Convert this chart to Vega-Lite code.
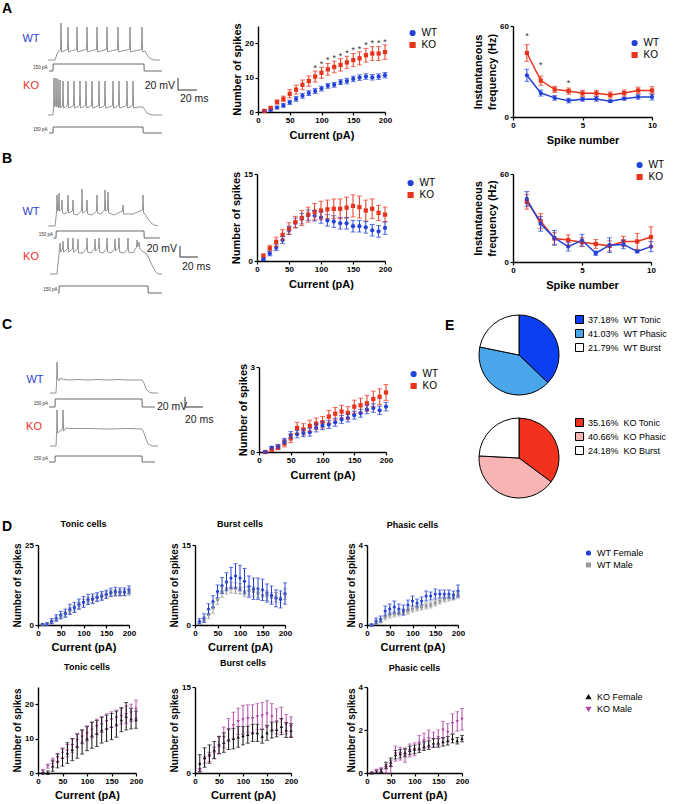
{
"$schema": "https://vega.github.io/schema/vega-lite/v6.json",
"padding": 0,
"background": "white",
"bounds": "flush",
"spacing": 0,
"config": {
 "view": {"stroke": null},
 "font": "Liberation Sans",
 "axis": {"domainColor": "#000", "domainWidth": 1.4, "tickColor": "#000", "tickWidth": 1.2, "tickSize": 3, "labelFont": "Liberation Sans", "labelFontWeight": "bold", "labelFontSize": 8, "labelColor": "#000", "labelPadding": 1.5, "titleFont": "Liberation Sans", "titleFontWeight": "bold", "titleFontSize": 11, "titleColor": "#000", "titlePadding": 2, "grid": false, "labelFlush": false, "labelOverlap": false},
 "axisX": {"titlePadding": 5},
 "legend": {"labelFont": "Liberation Sans", "labelFontSize": 10, "labelColor": "#000", "padding": 0, "rowPadding": 0, "labelOffset": 4, "symbolSize": 22},
 "text": {"font": "Liberation Sans"}
},
"resolve": {"scale": {"color": "independent", "shape": "independent", "stroke": "independent"}},
"datasets": {
 "vA": [
  {"id":"WT","t":0,"v":81},{"id":"WT","t":7,"v":81},{"id":"WT","t":9,"v":87},{"id":"WT","t":11,"v":90},{"id":"WT","t":12.5,"v":91},{"id":"WT","t":13,"v":118},{"id":"WT","t":13.6,"v":89},{"id":"WT","t":16.5,"v":90.5},{"id":"WT","t":19.5,"v":91.5},{"id":"WT","t":20,"v":114},{"id":"WT","t":20.6,"v":89},{"id":"WT","t":24.5,"v":90.5},{"id":"WT","t":28.5,"v":91.5},{"id":"WT","t":29,"v":114},{"id":"WT","t":29.6,"v":89},{"id":"WT","t":34,"v":90.5},{"id":"WT","t":38.5,"v":91.5},{"id":"WT","t":39,"v":114},{"id":"WT","t":39.6,"v":89},{"id":"WT","t":44,"v":90.5},{"id":"WT","t":48.5,"v":91.5},{"id":"WT","t":49,"v":114},{"id":"WT","t":49.6,"v":89},{"id":"WT","t":54,"v":90.5},{"id":"WT","t":58.5,"v":91.5},{"id":"WT","t":59,"v":114},{"id":"WT","t":59.6,"v":89},{"id":"WT","t":64.5,"v":90.5},{"id":"WT","t":69.5,"v":91.5},{"id":"WT","t":70,"v":114},{"id":"WT","t":70.6,"v":89},{"id":"WT","t":76,"v":90.5},{"id":"WT","t":81.5,"v":91.5},{"id":"WT","t":82,"v":114},{"id":"WT","t":82.6,"v":89},{"id":"WT","t":88,"v":90.5},{"id":"WT","t":93.5,"v":91.5},{"id":"WT","t":94,"v":114},{"id":"WT","t":94.6,"v":89},{"id":"WT","t":97,"v":90},{"id":"WT","t":99,"v":86},{"id":"WT","t":101.5,"v":83},{"id":"WT","t":104,"v":81.5},{"id":"WT","t":107,"v":81},{"id":"WT","t":112,"v":81},
  {"id":"KO","t":0,"v":26},{"id":"KO","t":5,"v":26},{"id":"KO","t":5.6,"v":33},{"id":"KO","t":6,"v":63},{"id":"KO","t":6.6,"v":34},{"id":"KO","t":7.6,"v":36},{"id":"KO","t":8,"v":63},{"id":"KO","t":8.6,"v":34},{"id":"KO","t":9.6,"v":35},{"id":"KO","t":10,"v":62},{"id":"KO","t":10.6,"v":33},{"id":"KO","t":11.6,"v":35},{"id":"KO","t":12,"v":61},{"id":"KO","t":12.6,"v":33},{"id":"KO","t":14.5,"v":35},{"id":"KO","t":15,"v":60},{"id":"KO","t":15.6,"v":33},{"id":"KO","t":17.5,"v":34},{"id":"KO","t":19.5,"v":35.5},{"id":"KO","t":20,"v":60},{"id":"KO","t":20.6,"v":33},{"id":"KO","t":23,"v":34},{"id":"KO","t":25.5,"v":35.5},{"id":"KO","t":26,"v":60},{"id":"KO","t":26.6,"v":33},{"id":"KO","t":29,"v":34},{"id":"KO","t":31.5,"v":35.5},{"id":"KO","t":32,"v":60},{"id":"KO","t":32.6,"v":33},{"id":"KO","t":35,"v":34},{"id":"KO","t":37.5,"v":35.5},{"id":"KO","t":38,"v":60},{"id":"KO","t":38.6,"v":33},{"id":"KO","t":41,"v":34},{"id":"KO","t":43.5,"v":35.5},{"id":"KO","t":44,"v":60},{"id":"KO","t":44.6,"v":33},{"id":"KO","t":47.5,"v":34},{"id":"KO","t":50.5,"v":35.5},{"id":"KO","t":51,"v":60},{"id":"KO","t":51.6,"v":33},{"id":"KO","t":54,"v":34},{"id":"KO","t":56.5,"v":35.5},{"id":"KO","t":57,"v":60},{"id":"KO","t":57.6,"v":33},{"id":"KO","t":61,"v":34},{"id":"KO","t":64.5,"v":35.5},{"id":"KO","t":65,"v":60},{"id":"KO","t":65.6,"v":33},{"id":"KO","t":68,"v":34},{"id":"KO","t":70.5,"v":35.5},{"id":"KO","t":71,"v":60},{"id":"KO","t":71.6,"v":33},{"id":"KO","t":75,"v":34},{"id":"KO","t":78.5,"v":35.5},{"id":"KO","t":79,"v":60},{"id":"KO","t":79.6,"v":33},{"id":"KO","t":82,"v":34},{"id":"KO","t":84.5,"v":35.5},{"id":"KO","t":85,"v":60},{"id":"KO","t":85.6,"v":33},{"id":"KO","t":90,"v":34},{"id":"KO","t":95,"v":34},{"id":"KO","t":97,"v":31},{"id":"KO","t":99,"v":28},{"id":"KO","t":102,"v":26.5},{"id":"KO","t":105,"v":26},{"id":"KO","t":114,"v":26}
 ],
 "iA": [
  {"id":"WT","t":1,"v":70},{"id":"WT","t":5,"v":70},{"id":"WT","t":5.2,"v":77},{"id":"WT","t":96,"v":77},{"id":"WT","t":96.2,"v":70},{"id":"WT","t":114,"v":70},
  {"id":"KO","t":1,"v":8},{"id":"KO","t":5,"v":8},{"id":"KO","t":5.2,"v":14},{"id":"KO","t":95,"v":14},{"id":"KO","t":95.2,"v":8},{"id":"KO","t":114,"v":8}
 ],
 "bA": [{"t":130,"v":63,"t2":130,"v2":51},{"t":130,"v":51,"t2":149,"v2":51}],
 "lA": [{"t":-17,"v":102,"label":"WT"},{"t":-17,"v":55,"label":"KO"}],
 "sbAr": [{"t":127,"v":55,"label":"20 mV"}],
 "sbAl": [{"t":132,"v":42,"label":"20 ms"}],
 "pA": [{"t":-0.5,"v":73,"label":"150 pA"},{"t":-0.5,"v":11,"label":"150 pA"}],
 "letA": [{"t":-46,"v":128,"label":"A"}],
 "vB": [
  {"id":"WT","t":0,"v":73},{"id":"WT","t":7,"v":73},{"id":"WT","t":8.5,"v":86},{"id":"WT","t":9,"v":104},{"id":"WT","t":9.6,"v":88},{"id":"WT","t":10.4,"v":89},{"id":"WT","t":11,"v":106},{"id":"WT","t":11.6,"v":88},{"id":"WT","t":13.5,"v":90},{"id":"WT","t":14,"v":99},{"id":"WT","t":14.6,"v":86},{"id":"WT","t":17,"v":85},{"id":"WT","t":19.5,"v":88},{"id":"WT","t":20,"v":104},{"id":"WT","t":20.6,"v":86},{"id":"WT","t":24.5,"v":88},{"id":"WT","t":25,"v":99},{"id":"WT","t":25.6,"v":85},{"id":"WT","t":29,"v":84},{"id":"WT","t":33.5,"v":88},{"id":"WT","t":34,"v":110},{"id":"WT","t":34.6,"v":86},{"id":"WT","t":38.5,"v":88},{"id":"WT","t":39,"v":99},{"id":"WT","t":39.6,"v":85},{"id":"WT","t":44,"v":84},{"id":"WT","t":48.5,"v":88},{"id":"WT","t":49,"v":104},{"id":"WT","t":49.6,"v":86},{"id":"WT","t":53,"v":85},{"id":"WT","t":56.5,"v":89},{"id":"WT","t":57,"v":109},{"id":"WT","t":57.6,"v":88},{"id":"WT","t":59.5,"v":89},{"id":"WT","t":60,"v":107},{"id":"WT","t":60.6,"v":86},{"id":"WT","t":66,"v":84},{"id":"WT","t":74.5,"v":88},{"id":"WT","t":75,"v":94},{"id":"WT","t":75.6,"v":85},{"id":"WT","t":85,"v":85},{"id":"WT","t":94.5,"v":89},{"id":"WT","t":95,"v":104},{"id":"WT","t":95.6,"v":86},{"id":"WT","t":97,"v":85},{"id":"WT","t":100,"v":80},{"id":"WT","t":103,"v":76},{"id":"WT","t":106,"v":74},{"id":"WT","t":110,"v":73},
  {"id":"KO","t":2,"v":25},{"id":"KO","t":9,"v":25},{"id":"KO","t":10.5,"v":40},{"id":"KO","t":11.5,"v":50},{"id":"KO","t":12,"v":56},{"id":"KO","t":12.6,"v":47},{"id":"KO","t":14.5,"v":50},{"id":"KO","t":15,"v":58},{"id":"KO","t":15.6,"v":47},{"id":"KO","t":19.5,"v":50},{"id":"KO","t":20,"v":61},{"id":"KO","t":20.6,"v":47},{"id":"KO","t":24.5,"v":50},{"id":"KO","t":25,"v":61},{"id":"KO","t":25.6,"v":47},{"id":"KO","t":29.5,"v":50},{"id":"KO","t":30,"v":60},{"id":"KO","t":30.6,"v":46},{"id":"KO","t":35,"v":46},{"id":"KO","t":38.5,"v":50},{"id":"KO","t":39,"v":61},{"id":"KO","t":39.6,"v":47},{"id":"KO","t":43,"v":46},{"id":"KO","t":46.5,"v":50},{"id":"KO","t":47,"v":60},{"id":"KO","t":47.6,"v":48},{"id":"KO","t":50.5,"v":51},{"id":"KO","t":51,"v":61},{"id":"KO","t":51.6,"v":47},{"id":"KO","t":55,"v":46},{"id":"KO","t":58.5,"v":50},{"id":"KO","t":59,"v":61},{"id":"KO","t":59.6,"v":47},{"id":"KO","t":63,"v":46},{"id":"KO","t":66.5,"v":50},{"id":"KO","t":67,"v":60},{"id":"KO","t":67.6,"v":48},{"id":"KO","t":70.5,"v":51},{"id":"KO","t":71,"v":61},{"id":"KO","t":71.6,"v":47},{"id":"KO","t":76,"v":46},{"id":"KO","t":79.5,"v":50},{"id":"KO","t":80,"v":61},{"id":"KO","t":80.6,"v":47},{"id":"KO","t":85,"v":46},{"id":"KO","t":88.5,"v":52},{"id":"KO","t":89,"v":59},{"id":"KO","t":89.6,"v":52},{"id":"KO","t":90.5,"v":54},{"id":"KO","t":91,"v":57},{"id":"KO","t":92,"v":50},{"id":"KO","t":94,"v":48},{"id":"KO","t":99,"v":45},{"id":"KO","t":103,"v":36},{"id":"KO","t":107,"v":28},{"id":"KO","t":110,"v":25},{"id":"KO","t":114,"v":25}
 ],
 "iB": [
  {"id":"WT","t":5.5,"v":61},{"id":"WT","t":8,"v":61},{"id":"WT","t":8.2,"v":68},{"id":"WT","t":96,"v":68},{"id":"WT","t":96.2,"v":61},{"id":"WT","t":112,"v":61},
  {"id":"KO","t":10,"v":6},{"id":"KO","t":11,"v":6},{"id":"KO","t":11.2,"v":13},{"id":"KO","t":100,"v":13},{"id":"KO","t":100.2,"v":6},{"id":"KO","t":114,"v":6}
 ],
 "bB": [{"t":132,"v":53,"t2":132,"v2":42},{"t":132,"v":42,"t2":150,"v2":42}],
 "lB": [{"t":-17,"v":87,"label":"WT"},{"t":-17,"v":42,"label":"KO"}],
 "sbBr": [{"t":129,"v":50,"label":"20 mV"}],
 "sbBl": [{"t":134,"v":32,"label":"20 ms"}],
 "pB": [{"t":5,"v":64,"label":"150 pA"},{"t":9.5,"v":9,"label":"150 pA"}],
 "letB": [{"t":-46,"v":136,"label":"B"}],
 "vC": [
  {"id":"WT","t":2,"v":74},{"id":"WT","t":8,"v":74},{"id":"WT","t":8.6,"v":85},{"id":"WT","t":9,"v":105},{"id":"WT","t":9.6,"v":88},{"id":"WT","t":11,"v":86},{"id":"WT","t":12,"v":89},{"id":"WT","t":14,"v":88},{"id":"WT","t":20,"v":87},{"id":"WT","t":30,"v":87.5},{"id":"WT","t":40,"v":87},{"id":"WT","t":50,"v":87.5},{"id":"WT","t":60,"v":87},{"id":"WT","t":70,"v":87.5},{"id":"WT","t":80,"v":87},{"id":"WT","t":94,"v":87},{"id":"WT","t":96,"v":84},{"id":"WT","t":98,"v":78},{"id":"WT","t":101,"v":75},{"id":"WT","t":104,"v":74},{"id":"WT","t":110,"v":74},
  {"id":"KO","t":2,"v":21},{"id":"KO","t":8,"v":21},{"id":"KO","t":8.6,"v":33},{"id":"KO","t":9,"v":57},{"id":"KO","t":9.6,"v":34},{"id":"KO","t":12,"v":36},{"id":"KO","t":14.6,"v":38},{"id":"KO","t":15,"v":57},{"id":"KO","t":15.6,"v":36},{"id":"KO","t":18,"v":39},{"id":"KO","t":22,"v":38.5},{"id":"KO","t":40,"v":38.5},{"id":"KO","t":60,"v":38},{"id":"KO","t":80,"v":38.5},{"id":"KO","t":94,"v":38},{"id":"KO","t":96,"v":34},{"id":"KO","t":98,"v":28},{"id":"KO","t":100,"v":23},{"id":"KO","t":104,"v":21},{"id":"KO","t":110,"v":21}
 ],
 "iC": [
  {"id":"WT","t":1,"v":60},{"id":"WT","t":7,"v":60},{"id":"WT","t":7.2,"v":68},{"id":"WT","t":94,"v":68},{"id":"WT","t":94.2,"v":60},{"id":"WT","t":107,"v":60},
  {"id":"KO","t":1,"v":5},{"id":"KO","t":7,"v":5},{"id":"KO","t":7.2,"v":11},{"id":"KO","t":94,"v":11},{"id":"KO","t":94.2,"v":5},{"id":"KO","t":107,"v":5}
 ],
 "bC": [{"t":137,"v":70,"t2":137,"v2":60},{"t":137,"v":60,"t2":155,"v2":60}],
 "lC": [{"t":-13,"v":87,"label":"WT"},{"t":-14,"v":40,"label":"KO"}],
 "sbCl": [{"t":109,"v":60,"label":"20 mV"},{"t":137,"v":47,"label":"20 ms"}],
 "pC": [{"t":0,"v":63,"label":"150 pA"},{"t":0,"v":8,"label":"150 pA"}],
 "letC": [{"t":-46,"v":138,"label":"C"},{"t":397,"v":137,"label":"E"},{"t":-46,"v":-64,"label":"D"}],
 "sA": [
  {"g":"WT","x":10,"y":0.3,"e":0.2},{"g":"WT","x":20,"y":0.6,"e":0.3},{"g":"WT","x":30,"y":1.3,"e":0.4},{"g":"WT","x":40,"y":1.9,"e":0.5},{"g":"WT","x":50,"y":2.8,"e":0.6},{"g":"WT","x":60,"y":3.8,"e":0.7},{"g":"WT","x":70,"y":4.7,"e":0.7},{"g":"WT","x":80,"y":5.5,"e":0.7},{"g":"WT","x":90,"y":6.1,"e":0.7},{"g":"WT","x":100,"y":6.8,"e":0.7},{"g":"WT","x":110,"y":7.6,"e":0.7},{"g":"WT","x":120,"y":7.9,"e":0.7},{"g":"WT","x":130,"y":8.7,"e":0.7},{"g":"WT","x":140,"y":9.0,"e":0.8},{"g":"WT","x":150,"y":9.6,"e":0.8},{"g":"WT","x":160,"y":10.0,"e":0.8},{"g":"WT","x":170,"y":10.3,"e":0.8},{"g":"WT","x":180,"y":10.1,"e":0.8},{"g":"WT","x":190,"y":10.3,"e":0.8},{"g":"WT","x":200,"y":10.7,"e":0.8},
  {"g":"KO","x":10,"y":0.3,"e":0.2},{"g":"KO","x":20,"y":1.2,"e":0.4},{"g":"KO","x":30,"y":2.9,"e":0.6},{"g":"KO","x":40,"y":3.8,"e":0.8},{"g":"KO","x":50,"y":5.3,"e":1.2},{"g":"KO","x":60,"y":6.5,"e":1.3},{"g":"KO","x":70,"y":7.9,"e":1.4},{"g":"KO","x":80,"y":9.0,"e":1.5},{"g":"KO","x":90,"y":10.3,"e":1.6},{"g":"KO","x":100,"y":11.4,"e":1.6},{"g":"KO","x":110,"y":12.4,"e":1.7},{"g":"KO","x":120,"y":13.1,"e":1.7},{"g":"KO","x":130,"y":13.7,"e":1.8},{"g":"KO","x":140,"y":14.4,"e":1.8},{"g":"KO","x":150,"y":15.1,"e":1.9},{"g":"KO","x":160,"y":15.6,"e":1.9},{"g":"KO","x":170,"y":16.5,"e":2.0},{"g":"KO","x":180,"y":17.0,"e":2.0},{"g":"KO","x":190,"y":17.0,"e":2.0},{"g":"KO","x":200,"y":17.4,"e":2.1}
 ],
 "stA": [{"x":90,"y":13.4},{"x":100,"y":14.5},{"x":110,"y":15.6},{"x":120,"y":16.3},{"x":130,"y":17.0},{"x":140,"y":17.7},{"x":150,"y":18.5},{"x":160,"y":19.0},{"x":170,"y":20.0},{"x":180,"y":20.5},{"x":190,"y":20.6},{"x":200,"y":20.9}],
 "fA": [
  {"g":"WT","x":1,"y":27.5,"e":4},{"g":"WT","x":2,"y":15.8,"e":2},{"g":"WT","x":3,"y":12.6,"e":1.5},{"g":"WT","x":4,"y":10.8,"e":1.5},{"g":"WT","x":5,"y":11.7,"e":1.2},{"g":"WT","x":6,"y":11.9,"e":1.5},{"g":"WT","x":7,"y":10.4,"e":0.8},{"g":"WT","x":8,"y":12.1,"e":0.8},{"g":"WT","x":9,"y":13.2,"e":1.5},{"g":"WT","x":10,"y":13.2,"e":2},
  {"g":"KO","x":1,"y":42.2,"e":5.5},{"g":"KO","x":2,"y":24,"e":3},{"g":"KO","x":3,"y":18.2,"e":2},{"g":"KO","x":4,"y":17.1,"e":2},{"g":"KO","x":5,"y":15.6,"e":2},{"g":"KO","x":6,"y":15.6,"e":2},{"g":"KO","x":7,"y":14.5,"e":2},{"g":"KO","x":8,"y":15.8,"e":2},{"g":"KO","x":9,"y":17.5,"e":2.2},{"g":"KO","x":10,"y":17.5,"e":2.5}
 ],
 "stF": [{"x":1,"y":55},{"x":2,"y":35.7},{"x":4,"y":23.8}],
 "sB": [
  {"g":"WT","x":10,"y":0.3,"e":0.2},{"g":"WT","x":20,"y":1.3,"e":0.4},{"g":"WT","x":30,"y":2.3,"e":0.5},{"g":"WT","x":40,"y":3.6,"e":0.6},{"g":"WT","x":50,"y":5.3,"e":0.7},{"g":"WT","x":60,"y":6.6,"e":0.8},{"g":"WT","x":70,"y":7.3,"e":0.9},{"g":"WT","x":80,"y":7.9,"e":0.9},{"g":"WT","x":90,"y":7.8,"e":0.9},{"g":"WT","x":100,"y":7.5,"e":1.0},{"g":"WT","x":110,"y":7.0,"e":1.0},{"g":"WT","x":120,"y":6.8,"e":1.0},{"g":"WT","x":130,"y":6.5,"e":1.0},{"g":"WT","x":140,"y":6.5,"e":1.0},{"g":"WT","x":150,"y":6.0,"e":1.0},{"g":"WT","x":160,"y":6.0,"e":1.0},{"g":"WT","x":170,"y":5.8,"e":1.0},{"g":"WT","x":180,"y":5.3,"e":1.0},{"g":"WT","x":190,"y":5.1,"e":1.0},{"g":"WT","x":200,"y":5.7,"e":1.1},
  {"g":"KO","x":10,"y":0.9,"e":0.3},{"g":"KO","x":20,"y":2.2,"e":0.5},{"g":"KO","x":30,"y":3.3,"e":0.8},{"g":"KO","x":40,"y":4.5,"e":0.9},{"g":"KO","x":50,"y":5.6,"e":1.0},{"g":"KO","x":60,"y":6.7,"e":1.0},{"g":"KO","x":70,"y":7.4,"e":1.3},{"g":"KO","x":80,"y":8.0,"e":1.3},{"g":"KO","x":90,"y":8.5,"e":1.4},{"g":"KO","x":100,"y":8.7,"e":1.6},{"g":"KO","x":110,"y":8.9,"e":1.6},{"g":"KO","x":120,"y":9.0,"e":1.7},{"g":"KO","x":130,"y":9.0,"e":1.7},{"g":"KO","x":140,"y":9.2,"e":1.8},{"g":"KO","x":150,"y":9.5,"e":1.9},{"g":"KO","x":160,"y":9.3,"e":1.9},{"g":"KO","x":170,"y":8.7,"e":1.8},{"g":"KO","x":180,"y":9.0,"e":1.7},{"g":"KO","x":190,"y":8.3,"e":1.3},{"g":"KO","x":200,"y":8.0,"e":1.3}
 ],
 "fB": [
  {"g":"KO","x":1,"y":41,"e":5},{"g":"KO","x":2,"y":28,"e":5},{"g":"KO","x":3,"y":16,"e":4},{"g":"KO","x":4,"y":15,"e":3.5},{"g":"KO","x":5,"y":13.5,"e":3},{"g":"KO","x":6,"y":12.3,"e":3},{"g":"KO","x":7,"y":11,"e":3.5},{"g":"KO","x":8,"y":14,"e":3.5},{"g":"KO","x":9,"y":14,"e":5.5},{"g":"KO","x":10,"y":17,"e":7},
  {"g":"WT","x":1,"y":43,"e":5},{"g":"WT","x":2,"y":26,"e":5},{"g":"WT","x":3,"y":16.5,"e":5},{"g":"WT","x":4,"y":10.5,"e":3},{"g":"WT","x":5,"y":14.8,"e":4},{"g":"WT","x":6,"y":6,"e":1.5},{"g":"WT","x":7,"y":11.5,"e":5},{"g":"WT","x":8,"y":12,"e":3},{"g":"WT","x":9,"y":7.2,"e":1},{"g":"WT","x":10,"y":10.5,"e":3.5}
 ],
 "sC": [
  {"g":"KO","x":10,"y":0,"e":0.03},{"g":"KO","x":20,"y":0.08,"e":0.05},{"g":"KO","x":30,"y":0.15,"e":0.07},{"g":"KO","x":40,"y":0.3,"e":0.12},{"g":"KO","x":50,"y":0.48,"e":0.15},{"g":"KO","x":60,"y":0.85,"e":0.2},{"g":"KO","x":70,"y":0.8,"e":0.2},{"g":"KO","x":80,"y":0.92,"e":0.2},{"g":"KO","x":90,"y":1.0,"e":0.2},{"g":"KO","x":100,"y":1.05,"e":0.2},{"g":"KO","x":110,"y":1.25,"e":0.22},{"g":"KO","x":120,"y":1.35,"e":0.22},{"g":"KO","x":130,"y":1.43,"e":0.22},{"g":"KO","x":140,"y":1.38,"e":0.22},{"g":"KO","x":150,"y":1.6,"e":0.23},{"g":"KO","x":160,"y":1.65,"e":0.25},{"g":"KO","x":170,"y":1.72,"e":0.28},{"g":"KO","x":180,"y":1.87,"e":0.28},{"g":"KO","x":190,"y":1.95,"e":0.28},{"g":"KO","x":200,"y":2.1,"e":0.28},
  {"g":"WT","x":10,"y":0,"e":0.03},{"g":"WT","x":20,"y":0.15,"e":0.05},{"g":"WT","x":30,"y":0.2,"e":0.07},{"g":"WT","x":40,"y":0.38,"e":0.1},{"g":"WT","x":50,"y":0.6,"e":0.12},{"g":"WT","x":60,"y":0.63,"e":0.13},{"g":"WT","x":70,"y":0.67,"e":0.13},{"g":"WT","x":80,"y":0.7,"e":0.14},{"g":"WT","x":90,"y":0.85,"e":0.14},{"g":"WT","x":100,"y":0.93,"e":0.14},{"g":"WT","x":110,"y":0.97,"e":0.14},{"g":"WT","x":120,"y":1.05,"e":0.14},{"g":"WT","x":130,"y":1.15,"e":0.14},{"g":"WT","x":140,"y":1.2,"e":0.14},{"g":"WT","x":150,"y":1.3,"e":0.14},{"g":"WT","x":160,"y":1.37,"e":0.14},{"g":"WT","x":170,"y":1.5,"e":0.15},{"g":"WT","x":180,"y":1.55,"e":0.15},{"g":"WT","x":190,"y":1.47,"e":0.15},{"g":"WT","x":200,"y":1.6,"e":0.15}
 ],
 "pieWT": [{"geno":"WT","cat":"37.18%\u00a0\u00a0WT Tonic","pct":37.18,"k":1},{"geno":"WT","cat":"41.03%\u00a0\u00a0WT Phasic","pct":41.03,"k":2},{"geno":"WT","cat":"21.79%\u00a0\u00a0WT Burst","pct":21.79,"k":3}],
 "pieKO": [{"geno":"KO","cat":"35.16%\u00a0\u00a0KO Tonic","pct":35.16,"k":1},{"geno":"KO","cat":"40.66%\u00a0\u00a0KO Phasic","pct":40.66,"k":2},{"geno":"KO","cat":"24.18%\u00a0\u00a0KO Burst","pct":24.18,"k":3}],
 "dTW": [
  {"g":"WT Male","x":10,"y":0.1,"e":0.1},{"g":"WT Male","x":20,"y":0.3,"e":0.2},{"g":"WT Male","x":30,"y":1.0,"e":0.5},{"g":"WT Male","x":40,"y":1.8,"e":0.6},{"g":"WT Male","x":50,"y":2.8,"e":0.7},{"g":"WT Male","x":60,"y":3.5,"e":0.8},{"g":"WT Male","x":70,"y":4.5,"e":0.9},{"g":"WT Male","x":80,"y":5.3,"e":0.9},{"g":"WT Male","x":90,"y":6.2,"e":1.0},{"g":"WT Male","x":100,"y":7.0,"e":1.0},{"g":"WT Male","x":110,"y":7.6,"e":1.0},{"g":"WT Male","x":120,"y":8.0,"e":1.0},{"g":"WT Male","x":130,"y":8.6,"e":1.0},{"g":"WT Male","x":140,"y":9.0,"e":1.0},{"g":"WT Male","x":150,"y":9.4,"e":1.0},{"g":"WT Male","x":160,"y":9.8,"e":1.0},{"g":"WT Male","x":170,"y":10.0,"e":1.0},{"g":"WT Male","x":180,"y":10.0,"e":1.0},{"g":"WT Male","x":190,"y":10.1,"e":1.0},{"g":"WT Male","x":200,"y":10.3,"e":1.0},
  {"g":"WT Female","x":10,"y":0.2,"e":0.2},{"g":"WT Female","x":20,"y":0.3,"e":0.4},{"g":"WT Female","x":30,"y":1.2,"e":0.8},{"g":"WT Female","x":40,"y":2.2,"e":1.0},{"g":"WT Female","x":50,"y":3.1,"e":1.2},{"g":"WT Female","x":60,"y":3.7,"e":1.3},{"g":"WT Female","x":70,"y":4.9,"e":1.6},{"g":"WT Female","x":80,"y":5.5,"e":1.6},{"g":"WT Female","x":90,"y":6.5,"e":1.6},{"g":"WT Female","x":100,"y":7.2,"e":1.7},{"g":"WT Female","x":110,"y":8.0,"e":1.6},{"g":"WT Female","x":120,"y":8.2,"e":1.5},{"g":"WT Female","x":130,"y":8.7,"e":1.4},{"g":"WT Female","x":140,"y":9.1,"e":1.4},{"g":"WT Female","x":150,"y":9.6,"e":1.3},{"g":"WT Female","x":160,"y":10.2,"e":1.3},{"g":"WT Female","x":170,"y":10.5,"e":1.3},{"g":"WT Female","x":180,"y":10.4,"e":1.2},{"g":"WT Female","x":190,"y":10.4,"e":1.2},{"g":"WT Female","x":200,"y":11.0,"e":1.2}
 ],
 "dBW": [
  {"g":"WT Male","x":10,"y":0.5,"e":0.3},{"g":"WT Male","x":20,"y":1.0,"e":0.5},{"g":"WT Male","x":30,"y":2.0,"e":0.8},{"g":"WT Male","x":40,"y":3.2,"e":1.0},{"g":"WT Male","x":50,"y":4.8,"e":1.0},{"g":"WT Male","x":60,"y":6.2,"e":1.0},{"g":"WT Male","x":70,"y":6.8,"e":1.0},{"g":"WT Male","x":80,"y":7.0,"e":1.0},{"g":"WT Male","x":90,"y":6.9,"e":1.0},{"g":"WT Male","x":100,"y":6.8,"e":1.0},{"g":"WT Male","x":110,"y":6.2,"e":0.9},{"g":"WT Male","x":120,"y":6.5,"e":0.9},{"g":"WT Male","x":130,"y":6.3,"e":0.9},{"g":"WT Male","x":140,"y":6.0,"e":0.9},{"g":"WT Male","x":150,"y":5.5,"e":0.9},{"g":"WT Male","x":160,"y":5.5,"e":0.9},{"g":"WT Male","x":170,"y":5.2,"e":0.9},{"g":"WT Male","x":180,"y":5.2,"e":0.9},{"g":"WT Male","x":190,"y":5.0,"e":0.9},{"g":"WT Male","x":200,"y":5.8,"e":1.0},
  {"g":"WT Female","x":10,"y":0.7,"e":0.5},{"g":"WT Female","x":20,"y":1.3,"e":0.8},{"g":"WT Female","x":30,"y":3.0,"e":1.0},{"g":"WT Female","x":40,"y":4.4,"e":1.1},{"g":"WT Female","x":50,"y":6.3,"e":1.2},{"g":"WT Female","x":60,"y":7.4,"e":1.5},{"g":"WT Female","x":70,"y":8.1,"e":1.7},{"g":"WT Female","x":80,"y":8.8,"e":2.0},{"g":"WT Female","x":90,"y":9.2,"e":2.3},{"g":"WT Female","x":100,"y":8.8,"e":2.4},{"g":"WT Female","x":110,"y":8.2,"e":2.4},{"g":"WT Female","x":120,"y":7.2,"e":2.0},{"g":"WT Female","x":130,"y":6.8,"e":2.0},{"g":"WT Female","x":140,"y":6.8,"e":2.0},{"g":"WT Female","x":150,"y":6.6,"e":2.0},{"g":"WT Female","x":160,"y":6.0,"e":1.7},{"g":"WT Female","x":170,"y":5.6,"e":1.7},{"g":"WT Female","x":180,"y":5.0,"e":1.6},{"g":"WT Female","x":190,"y":4.8,"e":1.6},{"g":"WT Female","x":200,"y":5.9,"e":2.0}
 ],
 "dPW": [
  {"g":"WT Male","x":10,"y":0,"e":0.03},{"g":"WT Male","x":20,"y":0.1,"e":0.08},{"g":"WT Male","x":30,"y":0.2,"e":0.1},{"g":"WT Male","x":40,"y":0.4,"e":0.15},{"g":"WT Male","x":50,"y":0.5,"e":0.15},{"g":"WT Male","x":60,"y":0.55,"e":0.15},{"g":"WT Male","x":70,"y":0.6,"e":0.15},{"g":"WT Male","x":80,"y":0.65,"e":0.15},{"g":"WT Male","x":90,"y":0.7,"e":0.15},{"g":"WT Male","x":100,"y":0.8,"e":0.15},{"g":"WT Male","x":110,"y":0.85,"e":0.15},{"g":"WT Male","x":120,"y":0.9,"e":0.15},{"g":"WT Male","x":130,"y":0.95,"e":0.15},{"g":"WT Male","x":140,"y":1.0,"e":0.15},{"g":"WT Male","x":150,"y":1.1,"e":0.15},{"g":"WT Male","x":160,"y":1.2,"e":0.15},{"g":"WT Male","x":170,"y":1.3,"e":0.15},{"g":"WT Male","x":180,"y":1.35,"e":0.15},{"g":"WT Male","x":190,"y":1.4,"e":0.15},{"g":"WT Male","x":200,"y":1.5,"e":0.15},
  {"g":"WT Female","x":10,"y":0,"e":0.05},{"g":"WT Female","x":20,"y":0.2,"e":0.15},{"g":"WT Female","x":30,"y":0.3,"e":0.15},{"g":"WT Female","x":40,"y":0.7,"e":0.25},{"g":"WT Female","x":50,"y":0.8,"e":0.25},{"g":"WT Female","x":60,"y":0.9,"e":0.3},{"g":"WT Female","x":70,"y":0.8,"e":0.25},{"g":"WT Female","x":80,"y":0.75,"e":0.25},{"g":"WT Female","x":90,"y":1.0,"e":0.25},{"g":"WT Female","x":100,"y":1.2,"e":0.25},{"g":"WT Female","x":110,"y":1.1,"e":0.2},{"g":"WT Female","x":120,"y":1.2,"e":0.2},{"g":"WT Female","x":130,"y":1.45,"e":0.25},{"g":"WT Female","x":140,"y":1.45,"e":0.2},{"g":"WT Female","x":150,"y":1.55,"e":0.25},{"g":"WT Female","x":160,"y":1.55,"e":0.2},{"g":"WT Female","x":170,"y":1.55,"e":0.2},{"g":"WT Female","x":180,"y":1.55,"e":0.2},{"g":"WT Female","x":190,"y":1.5,"e":0.2},{"g":"WT Female","x":200,"y":1.7,"e":0.3}
 ],
 "dTK": [
  {"g":"KO Male","x":10,"y":0.5,"e":0.5},{"g":"KO Male","x":20,"y":2.0,"e":0.6},{"g":"KO Male","x":30,"y":3.5,"e":0.8},{"g":"KO Male","x":40,"y":4.5,"e":1.2},{"g":"KO Male","x":50,"y":5.8,"e":1.5},{"g":"KO Male","x":60,"y":6.5,"e":1.8},{"g":"KO Male","x":70,"y":8.0,"e":2.0},{"g":"KO Male","x":80,"y":9.5,"e":2.0},{"g":"KO Male","x":90,"y":10.5,"e":2.0},{"g":"KO Male","x":100,"y":11.5,"e":2.2},{"g":"KO Male","x":110,"y":12.5,"e":2.2},{"g":"KO Male","x":120,"y":13.5,"e":2.2},{"g":"KO Male","x":130,"y":14.0,"e":2.2},{"g":"KO Male","x":140,"y":15.0,"e":2.2},{"g":"KO Male","x":150,"y":15.5,"e":2.3},{"g":"KO Male","x":160,"y":16.0,"e":2.3},{"g":"KO Male","x":170,"y":16.5,"e":2.3},{"g":"KO Male","x":180,"y":17.0,"e":2.5},{"g":"KO Male","x":190,"y":17.5,"e":2.5},{"g":"KO Male","x":200,"y":18.5,"e":2.7},
  {"g":"KO Female","x":10,"y":0,"e":0.2},{"g":"KO Female","x":20,"y":0.1,"e":0.5},{"g":"KO Female","x":30,"y":2.0,"e":1.5},{"g":"KO Female","x":40,"y":3.5,"e":2.0},{"g":"KO Female","x":50,"y":4.5,"e":2.5},{"g":"KO Female","x":60,"y":5.8,"e":3.0},{"g":"KO Female","x":70,"y":6.8,"e":3.2},{"g":"KO Female","x":80,"y":7.8,"e":3.5},{"g":"KO Female","x":90,"y":9.0,"e":3.5},{"g":"KO Female","x":100,"y":10.0,"e":3.5},{"g":"KO Female","x":110,"y":11.0,"e":3.8},{"g":"KO Female","x":120,"y":11.5,"e":3.8},{"g":"KO Female","x":130,"y":12.5,"e":3.8},{"g":"KO Female","x":140,"y":13.0,"e":3.8},{"g":"KO Female","x":150,"y":13.5,"e":3.8},{"g":"KO Female","x":160,"y":14.2,"e":3.8},{"g":"KO Female","x":170,"y":15.5,"e":3.5},{"g":"KO Female","x":180,"y":16.5,"e":4.0},{"g":"KO Female","x":190,"y":15.8,"e":3.0},{"g":"KO Female","x":200,"y":15.5,"e":2.5}
 ],
 "dBK": [
  {"g":"KO Male","x":10,"y":0.5,"e":0.3},{"g":"KO Male","x":20,"y":2.3,"e":0.6},{"g":"KO Male","x":30,"y":2.8,"e":0.8},{"g":"KO Male","x":40,"y":3.5,"e":1.0},{"g":"KO Male","x":50,"y":4.8,"e":1.5},{"g":"KO Male","x":60,"y":6.2,"e":1.8},{"g":"KO Male","x":70,"y":7.5,"e":2.0},{"g":"KO Male","x":80,"y":8.3,"e":2.3},{"g":"KO Male","x":90,"y":9.0,"e":2.3},{"g":"KO Male","x":100,"y":9.3,"e":2.5},{"g":"KO Male","x":110,"y":9.5,"e":2.4},{"g":"KO Male","x":120,"y":9.5,"e":2.4},{"g":"KO Male","x":130,"y":9.8,"e":2.3},{"g":"KO Male","x":140,"y":10.0,"e":2.3},{"g":"KO Male","x":150,"y":10.3,"e":2.3},{"g":"KO Male","x":160,"y":9.8,"e":2.3},{"g":"KO Male","x":170,"y":9.0,"e":2.2},{"g":"KO Male","x":180,"y":9.3,"e":2.2},{"g":"KO Male","x":190,"y":8.5,"e":1.7},{"g":"KO Male","x":200,"y":8.1,"e":1.7},
  {"g":"KO Female","x":10,"y":1.7,"e":1.5},{"g":"KO Female","x":20,"y":2.7,"e":1.7},{"g":"KO Female","x":30,"y":3.3,"e":1.6},{"g":"KO Female","x":40,"y":4.0,"e":1.5},{"g":"KO Female","x":50,"y":4.9,"e":1.5},{"g":"KO Female","x":60,"y":5.3,"e":1.7},{"g":"KO Female","x":70,"y":5.9,"e":1.8},{"g":"KO Female","x":80,"y":6.0,"e":1.8},{"g":"KO Female","x":90,"y":6.3,"e":1.8},{"g":"KO Female","x":100,"y":6.5,"e":1.6},{"g":"KO Female","x":110,"y":6.7,"e":1.5},{"g":"KO Female","x":120,"y":7.0,"e":1.5},{"g":"KO Female","x":130,"y":7.0,"e":1.5},{"g":"KO Female","x":140,"y":6.4,"e":1.2},{"g":"KO Female","x":150,"y":7.0,"e":1.3},{"g":"KO Female","x":160,"y":7.5,"e":1.4},{"g":"KO Female","x":170,"y":7.6,"e":1.3},{"g":"KO Female","x":180,"y":8.1,"e":1.4},{"g":"KO Female","x":190,"y":7.5,"e":1.3},{"g":"KO Female","x":200,"y":7.4,"e":1.2}
 ],
 "dPK": [
  {"g":"KO Male","x":10,"y":0,"e":0.03},{"g":"KO Male","x":20,"y":0.1,"e":0.08},{"g":"KO Male","x":30,"y":0.15,"e":0.1},{"g":"KO Male","x":40,"y":0.2,"e":0.2},{"g":"KO Male","x":50,"y":0.3,"e":0.3},{"g":"KO Male","x":60,"y":0.9,"e":0.35},{"g":"KO Male","x":70,"y":0.9,"e":0.3},{"g":"KO Male","x":80,"y":0.8,"e":0.3},{"g":"KO Male","x":90,"y":1.05,"e":0.3},{"g":"KO Male","x":100,"y":1.1,"e":0.3},{"g":"KO Male","x":110,"y":1.4,"e":0.35},{"g":"KO Male","x":120,"y":1.5,"e":0.35},{"g":"KO Male","x":130,"y":1.6,"e":0.4},{"g":"KO Male","x":140,"y":1.55,"e":0.35},{"g":"KO Male","x":150,"y":1.65,"e":0.35},{"g":"KO Male","x":160,"y":2.0,"e":0.4},{"g":"KO Male","x":170,"y":1.9,"e":0.4},{"g":"KO Male","x":180,"y":2.3,"e":0.45},{"g":"KO Male","x":190,"y":2.4,"e":0.45},{"g":"KO Male","x":200,"y":2.5,"e":0.5},
  {"g":"KO Female","x":10,"y":0,"e":0.03},{"g":"KO Female","x":20,"y":0.05,"e":0.05},{"g":"KO Female","x":30,"y":0.1,"e":0.08},{"g":"KO Female","x":40,"y":0.35,"e":0.15},{"g":"KO Female","x":50,"y":0.5,"e":0.2},{"g":"KO Female","x":60,"y":0.85,"e":0.2},{"g":"KO Female","x":70,"y":0.9,"e":0.2},{"g":"KO Female","x":80,"y":0.95,"e":0.2},{"g":"KO Female","x":90,"y":1.05,"e":0.2},{"g":"KO Female","x":100,"y":1.1,"e":0.2},{"g":"KO Female","x":110,"y":1.15,"e":0.2},{"g":"KO Female","x":120,"y":1.25,"e":0.2},{"g":"KO Female","x":130,"y":1.3,"e":0.2},{"g":"KO Female","x":140,"y":1.4,"e":0.2},{"g":"KO Female","x":150,"y":1.4,"e":0.2},{"g":"KO Female","x":160,"y":1.45,"e":0.2},{"g":"KO Female","x":170,"y":1.5,"e":0.2},{"g":"KO Female","x":180,"y":1.6,"e":0.2},{"g":"KO Female","x":190,"y":1.5,"e":0.15},{"g":"KO Female","x":200,"y":1.6,"e":0.15}
 ]
},
"vconcat": [
 {"width": 688, "height": 26, "data": {"values": [{}]}, "mark": "text", "encoding": {"text": {"value": ""}}},
 {"hconcat": [
   {"width": 130, "height": 115,
    "layer": [
     {"data": {"name": "vA"}, "mark": {"type": "line", "strokeWidth": 0.8, "color": "#7a7a7a"}, "encoding": {"x": {"field": "t", "type": "quantitative", "scale": {"domain": [-48, 82], "nice": false, "zero": false}, "axis": null}, "y": {"field": "v", "type": "quantitative", "scale": {"domain": [0, 115], "nice": false, "zero": false}, "axis": null}, "detail": {"field": "id", "type": "nominal"}}},
     {"data": {"name": "iA"}, "mark": {"type": "line", "strokeWidth": 0.8, "color": "#444"}, "encoding": {"x": {"field": "t", "type": "quantitative", "axis": null}, "y": {"field": "v", "type": "quantitative", "axis": null}, "detail": {"field": "id", "type": "nominal"}}},
     {"data": {"name": "bA"}, "mark": {"type": "rule", "strokeWidth": 1, "color": "#333"}, "encoding": {"x": {"field": "t", "type": "quantitative", "axis": null}, "x2": {"field": "t2"}, "y": {"field": "v", "type": "quantitative", "axis": null}, "y2": {"field": "v2"}}},
     {"data": {"name": "lA"}, "mark": {"type": "text", "fontSize": 11, "align": "center", "baseline": "middle"}, "encoding": {"x": {"field": "t", "type": "quantitative", "axis": null}, "y": {"field": "v", "type": "quantitative", "axis": null}, "text": {"field": "label", "type": "nominal"}, "color": {"field": "label", "type": "nominal", "scale": {"domain": ["WT", "KO"], "range": ["#2e3fd0", "#e8302a"]}, "legend": null}}},
     {"data": {"name": "sbAr"}, "mark": {"type": "text", "fontSize": 10.5, "align": "right", "baseline": "middle", "color": "#222"}, "encoding": {"x": {"field": "t", "type": "quantitative", "axis": null}, "y": {"field": "v", "type": "quantitative", "axis": null}, "text": {"field": "label", "type": "nominal"}}},
     {"data": {"name": "sbAl"}, "mark": {"type": "text", "fontSize": 10.5, "align": "left", "baseline": "middle", "color": "#222"}, "encoding": {"x": {"field": "t", "type": "quantitative", "axis": null}, "y": {"field": "v", "type": "quantitative", "axis": null}, "text": {"field": "label", "type": "nominal"}}},
     {"data": {"name": "pA"}, "mark": {"type": "text", "fontSize": 4.5, "align": "right", "baseline": "middle", "color": "#333"}, "encoding": {"x": {"field": "t", "type": "quantitative", "axis": null}, "y": {"field": "v", "type": "quantitative", "axis": null}, "text": {"field": "label", "type": "nominal"}}},
     {"data": {"name": "letA"}, "mark": {"type": "text", "fontSize": 14, "fontWeight": "bold", "align": "left", "baseline": "alphabetic", "color": "#000"}, "encoding": {"x": {"field": "t", "type": "quantitative", "axis": null}, "y": {"field": "v", "type": "quantitative", "axis": null}, "text": {"field": "label", "type": "nominal"}}}
    ]},
   {"width": 127, "height": 86, "data": {"name": "sA"},
    "encoding": {"x": {"field": "x", "type": "quantitative", "scale": {"domain": [0, 200], "nice": false}, "axis": {"values": [0, 50, 100, 150, 200], "title": "Current (pA)", "labelOverlap": false}}},
    "layer": [
     {"mark": {"type": "point", "filled": true, "size": 18, "opacity": 1}, "encoding": {"y": {"field": "y", "type": "quantitative", "scale": {"domain": [0, 25], "nice": false}, "axis": {"values": [0, 5, 10, 15, 20, 25], "labelOverlap": false}, "title": "Number of spikes"}, "color": {"field": "g", "type": "nominal", "scale": {"domain": ["WT", "KO"], "range": ["#2342d8", "#e8341c"]}, "legend": {"title": null, "orient": "none", "legendX": 149.6, "legendY": 2}}, "shape": {"field": "g", "type": "nominal", "scale": {"domain": ["WT", "KO"], "range": ["circle", "square"]}, "legend": {"title": null, "orient": "none", "legendX": 149.6, "legendY": 2}}}},
     {"mark": {"type": "errorbar", "ticks": true, "size": 5, "thickness": 1}, "encoding": {"y": {"field": "y", "type": "quantitative", "title": "Number of spikes"}, "yError": {"field": "e"}, "color": {"field": "g", "type": "nominal"}}},
     {"data": {"name": "stA"}, "mark": {"type": "text", "text": "*", "fontSize": 9, "baseline": "middle", "dy": 2, "color": "#333"}, "encoding": {"y": {"field": "y", "type": "quantitative", "title": "Number of spikes"}}}
    ]},
   {"width": 139, "height": 91, "data": {"name": "fA"},
    "encoding": {"x": {"field": "x", "type": "quantitative", "scale": {"domain": [0, 10], "nice": false}, "axis": {"values": [0, 5, 10], "title": "Spike number", "labelOverlap": false}}},
    "layer": [
     {"mark": {"type": "line", "strokeWidth": 1.5}, "encoding": {"y": {"field": "y", "type": "quantitative", "title": ["Instantaneous", "frequency (Hz)"]}, "stroke": {"field": "g", "type": "nominal", "scale": {"domain": ["KO", "WT"], "range": ["#e8341c", "#2342d8"]}, "legend": null}}},
     {"mark": {"type": "point", "filled": true, "size": 18, "opacity": 1}, "encoding": {"y": {"field": "y", "type": "quantitative", "scale": {"domain": [0, 60], "nice": false}, "axis": {"values": [0, 20, 40, 60], "titleLineHeight": 14, "labelOverlap": false}, "title": ["Instantaneous", "frequency (Hz)"]}, "color": {"field": "g", "type": "nominal", "scale": {"domain": ["WT", "KO"], "range": ["#2342d8", "#e8341c"]}, "legend": {"title": null, "orient": "none", "legendX": 116.6, "legendY": 12}}, "shape": {"field": "g", "type": "nominal", "scale": {"domain": ["WT", "KO"], "range": ["circle", "square"]}, "legend": {"title": null, "orient": "none", "legendX": 116.6, "legendY": 12}}}},
     {"mark": {"type": "errorbar", "ticks": true, "size": 5, "thickness": 1}, "encoding": {"y": {"field": "y", "type": "quantitative", "title": ["Instantaneous", "frequency (Hz)"]}, "yError": {"field": "e"}, "color": {"field": "g", "type": "nominal"}}},
     {"data": {"name": "stF"}, "mark": {"type": "text", "text": "*", "fontSize": 9, "baseline": "middle", "dy": 2, "color": "#333"}, "encoding": {"y": {"field": "y", "type": "quantitative", "title": ["Instantaneous", "frequency (Hz)"]}}}
    ]}
  ], "spacing": 128, "bounds": "flush", "resolve": {"scale": {"color": "independent", "shape": "independent", "stroke": "independent"}}},
 {"width": 688, "height": 148, "data": {"values": [{}]}, "mark": "text", "encoding": {"text": {"value": ""}}},
 {"hconcat": [
   {"width": 129, "height": 125,
    "layer": [
     {"data": {"name": "vB"}, "mark": {"type": "line", "strokeWidth": 0.8, "color": "#7a7a7a"}, "encoding": {"x": {"field": "t", "type": "quantitative", "scale": {"domain": [-48, 81], "nice": false, "zero": false}, "axis": null}, "y": {"field": "v", "type": "quantitative", "scale": {"domain": [0, 125], "nice": false, "zero": false}, "axis": null}, "detail": {"field": "id", "type": "nominal"}}},
     {"data": {"name": "iB"}, "mark": {"type": "line", "strokeWidth": 0.8, "color": "#444"}, "encoding": {"x": {"field": "t", "type": "quantitative", "axis": null}, "y": {"field": "v", "type": "quantitative", "axis": null}, "detail": {"field": "id", "type": "nominal"}}},
     {"data": {"name": "bB"}, "mark": {"type": "rule", "strokeWidth": 1, "color": "#333"}, "encoding": {"x": {"field": "t", "type": "quantitative", "axis": null}, "x2": {"field": "t2"}, "y": {"field": "v", "type": "quantitative", "axis": null}, "y2": {"field": "v2"}}},
     {"data": {"name": "lB"}, "mark": {"type": "text", "fontSize": 11, "align": "center", "baseline": "middle"}, "encoding": {"x": {"field": "t", "type": "quantitative", "axis": null}, "y": {"field": "v", "type": "quantitative", "axis": null}, "text": {"field": "label", "type": "nominal"}, "color": {"field": "label", "type": "nominal", "scale": {"domain": ["WT", "KO"], "range": ["#2e3fd0", "#e8302a"]}, "legend": null}}},
     {"data": {"name": "sbBr"}, "mark": {"type": "text", "fontSize": 10.5, "align": "right", "baseline": "middle", "color": "#222"}, "encoding": {"x": {"field": "t", "type": "quantitative", "axis": null}, "y": {"field": "v", "type": "quantitative", "axis": null}, "text": {"field": "label", "type": "nominal"}}},
     {"data": {"name": "sbBl"}, "mark": {"type": "text", "fontSize": 10.5, "align": "left", "baseline": "middle", "color": "#222"}, "encoding": {"x": {"field": "t", "type": "quantitative", "axis": null}, "y": {"field": "v", "type": "quantitative", "axis": null}, "text": {"field": "label", "type": "nominal"}}},
     {"data": {"name": "pB"}, "mark": {"type": "text", "fontSize": 4.5, "align": "right", "baseline": "middle", "color": "#333"}, "encoding": {"x": {"field": "t", "type": "quantitative", "axis": null}, "y": {"field": "v", "type": "quantitative", "axis": null}, "text": {"field": "label", "type": "nominal"}}},
     {"data": {"name": "letB"}, "mark": {"type": "text", "fontSize": 14, "fontWeight": "bold", "align": "left", "baseline": "alphabetic", "color": "#000"}, "encoding": {"x": {"field": "t", "type": "quantitative", "axis": null}, "y": {"field": "v", "type": "quantitative", "axis": null}, "text": {"field": "label", "type": "nominal"}}}
    ]},
   {"width": 128, "height": 87, "data": {"name": "sB"},
    "encoding": {"x": {"field": "x", "type": "quantitative", "scale": {"domain": [0, 200], "nice": false}, "axis": {"values": [0, 50, 100, 150, 200], "title": "Current (pA)", "labelOverlap": false}}},
    "layer": [
     {"mark": {"type": "point", "filled": true, "size": 18, "opacity": 1}, "encoding": {"y": {"field": "y", "type": "quantitative", "scale": {"domain": [0, 15], "nice": false}, "axis": {"values": [0, 5, 10, 15], "labelOverlap": false}, "title": "Number of spikes"}, "color": {"field": "g", "type": "nominal", "scale": {"domain": ["WT", "KO"], "range": ["#2342d8", "#e8341c"]}, "legend": {"title": null, "orient": "none", "legendX": 148.6, "legendY": 4}}, "shape": {"field": "g", "type": "nominal", "scale": {"domain": ["WT", "KO"], "range": ["circle", "square"]}, "legend": {"title": null, "orient": "none", "legendX": 148.6, "legendY": 4}}}},
     {"mark": {"type": "errorbar", "ticks": true, "size": 5, "thickness": 1}, "encoding": {"y": {"field": "y", "type": "quantitative", "title": "Number of spikes"}, "yError": {"field": "e"}, "color": {"field": "g", "type": "nominal"}}}
    ]},
   {"width": 138, "height": 88, "data": {"name": "fB"},
    "encoding": {"x": {"field": "x", "type": "quantitative", "scale": {"domain": [0, 10], "nice": false}, "axis": {"values": [0, 5, 10], "title": "Spike number", "labelOverlap": false}}},
    "layer": [
     {"mark": {"type": "line", "strokeWidth": 1.5}, "encoding": {"y": {"field": "y", "type": "quantitative", "title": ["Instantaneous", "frequency (Hz)"]}, "stroke": {"field": "g", "type": "nominal", "scale": {"domain": ["KO", "WT"], "range": ["#e8341c", "#2342d8"]}, "legend": null}}},
     {"mark": {"type": "point", "filled": true, "size": 18, "opacity": 1}, "encoding": {"y": {"field": "y", "type": "quantitative", "scale": {"domain": [0, 60], "nice": false}, "axis": {"values": [0, 20, 40, 60], "titleLineHeight": 14, "labelOverlap": false}, "title": ["Instantaneous", "frequency (Hz)"]}, "color": {"field": "g", "type": "nominal", "scale": {"domain": ["WT", "KO"], "range": ["#2342d8", "#e8341c"]}, "legend": {"title": null, "orient": "none", "legendX": 121.6, "legendY": -14}}, "shape": {"field": "g", "type": "nominal", "scale": {"domain": ["WT", "KO"], "range": ["circle", "square"]}, "legend": {"title": null, "orient": "none", "legendX": 121.6, "legendY": -14}}}},
     {"mark": {"type": "errorbar", "ticks": true, "size": 5, "thickness": 1}, "encoding": {"y": {"field": "y", "type": "quantitative", "title": ["Instantaneous", "frequency (Hz)"]}, "yError": {"field": "e"}, "color": {"field": "g", "type": "nominal"}}}
    ]}
  ], "spacing": 128, "bounds": "flush", "resolve": {"scale": {"color": "independent", "shape": "independent", "stroke": "independent"}}},
 {"width": 688, "height": 193, "data": {"values": [{}]}, "mark": "text", "encoding": {"text": {"value": ""}}},
 {"hconcat": [
   {"width": 166, "height": 100,
    "layer": [
     {"data": {"name": "vC"}, "mark": {"type": "line", "strokeWidth": 0.8, "color": "#7a7a7a"}, "encoding": {"x": {"field": "t", "type": "quantitative", "scale": {"domain": [-48, 118], "nice": false, "zero": false}, "axis": null}, "y": {"field": "v", "type": "quantitative", "scale": {"domain": [0, 100], "nice": false, "zero": false}, "axis": null}, "detail": {"field": "id", "type": "nominal"}}},
     {"data": {"name": "iC"}, "mark": {"type": "line", "strokeWidth": 0.8, "color": "#444"}, "encoding": {"x": {"field": "t", "type": "quantitative", "axis": null}, "y": {"field": "v", "type": "quantitative", "axis": null}, "detail": {"field": "id", "type": "nominal"}}},
     {"data": {"name": "bC"}, "mark": {"type": "rule", "strokeWidth": 1, "color": "#333"}, "encoding": {"x": {"field": "t", "type": "quantitative", "axis": null}, "x2": {"field": "t2"}, "y": {"field": "v", "type": "quantitative", "axis": null}, "y2": {"field": "v2"}}},
     {"data": {"name": "lC"}, "mark": {"type": "text", "fontSize": 11, "align": "center", "baseline": "middle"}, "encoding": {"x": {"field": "t", "type": "quantitative", "axis": null}, "y": {"field": "v", "type": "quantitative", "axis": null}, "text": {"field": "label", "type": "nominal"}, "color": {"field": "label", "type": "nominal", "scale": {"domain": ["WT", "KO"], "range": ["#2e3fd0", "#e8302a"]}, "legend": null}}},
     {"data": {"name": "sbCl"}, "mark": {"type": "text", "fontSize": 10.5, "align": "left", "baseline": "middle", "color": "#222"}, "encoding": {"x": {"field": "t", "type": "quantitative", "axis": null}, "y": {"field": "v", "type": "quantitative", "axis": null}, "text": {"field": "label", "type": "nominal"}}},
     {"data": {"name": "pC"}, "mark": {"type": "text", "fontSize": 4.5, "align": "right", "baseline": "middle", "color": "#333"}, "encoding": {"x": {"field": "t", "type": "quantitative", "axis": null}, "y": {"field": "v", "type": "quantitative", "axis": null}, "text": {"field": "label", "type": "nominal"}}},
     {"data": {"name": "letC"}, "mark": {"type": "text", "fontSize": 14, "fontWeight": "bold", "align": "left", "baseline": "alphabetic", "color": "#000"}, "encoding": {"x": {"field": "t", "type": "quantitative", "axis": null}, "y": {"field": "v", "type": "quantitative", "axis": null}, "text": {"field": "label", "type": "nominal"}}}
    ]},
   {"width": 127, "height": 85, "data": {"name": "sC"},
    "encoding": {"x": {"field": "x", "type": "quantitative", "scale": {"domain": [0, 200], "nice": false}, "axis": {"values": [0, 50, 100, 150, 200], "title": "Current (pA)", "labelOverlap": false}}},
    "layer": [
     {"mark": {"type": "point", "filled": true, "size": 18, "opacity": 1}, "encoding": {"y": {"field": "y", "type": "quantitative", "scale": {"domain": [0, 3], "nice": false}, "axis": {"values": [0, 1, 2, 3], "labelOverlap": false}, "title": "Number of spikes"}, "color": {"field": "g", "type": "nominal", "scale": {"domain": ["WT", "KO"], "range": ["#2342d8", "#e8341c"]}, "legend": {"title": null, "orient": "none", "legendX": 149.6, "legendY": 2}}, "shape": {"field": "g", "type": "nominal", "scale": {"domain": ["WT", "KO"], "range": ["circle", "square"]}, "legend": {"title": null, "orient": "none", "legendX": 149.6, "legendY": 2}}}},
     {"mark": {"type": "errorbar", "ticks": true, "size": 5, "thickness": 1}, "encoding": {"y": {"field": "y", "type": "quantitative", "title": "Number of spikes"}, "yError": {"field": "e"}, "color": {"field": "g", "type": "nominal"}}}
    ]},
   {"width": 80, "height": 85,
    "layer": [
     {"data": {"name": "pieWT"}, "mark": {"type": "arc", "radius": 40, "stroke": "#000", "strokeWidth": 1},
      "encoding": {"theta": {"field": "pct", "type": "quantitative", "stack": true}, "order": {"field": "k", "type": "quantitative"},
       "y": {"field": "geno", "type": "nominal", "scale": {"type": "point", "domain": ["WT", "KO"], "range": [-12, 91], "padding": 0}, "axis": null},
       "color": {"field": "cat", "type": "nominal", "scale": {"domain": ["37.18%\u00a0\u00a0WT Tonic", "41.03%\u00a0\u00a0WT Phasic", "21.79%\u00a0\u00a0WT Burst"], "range": ["#0c3ef2", "#4aa6ea", "#ffffff"]}, "legend": {"title": null, "orient": "none", "legendX": 96, "legendY": -52, "symbolType": "square", "symbolSize": 64, "symbolStrokeColor": "#000", "symbolStrokeWidth": 1, "labelFontSize": 9, "rowPadding": 1, "labelOffset": 4}}}},
     {"data": {"name": "pieKO"}, "mark": {"type": "arc", "radius": 40, "stroke": "#000", "strokeWidth": 1},
      "encoding": {"theta": {"field": "pct", "type": "quantitative", "stack": true}, "order": {"field": "k", "type": "quantitative"},
       "y": {"field": "geno", "type": "nominal", "axis": null},
       "color": {"field": "cat", "type": "nominal", "scale": {"domain": ["35.16%\u00a0\u00a0KO Tonic", "40.66%\u00a0\u00a0KO Phasic", "24.18%\u00a0\u00a0KO Burst"], "range": ["#f2321c", "#f8b4b4", "#ffffff"]}, "legend": {"title": null, "orient": "none", "legendX": 96, "legendY": 51, "symbolType": "square", "symbolSize": 64, "symbolStrokeColor": "#000", "symbolStrokeWidth": 1, "labelFontSize": 9, "rowPadding": 1, "labelOffset": 4}}}}
    ],
    "resolve": {"scale": {"color": "independent"}}}
  ], "spacing": 93, "bounds": "flush", "resolve": {"scale": {"color": "independent", "shape": "independent", "stroke": "independent"}}},
 {"width": 688, "height": 178, "data": {"values": [{}]}, "mark": "text", "encoding": {"text": {"value": ""}}},
 {"hconcat": [
   {"width": 38, "height": 1, "data": {"values": [{}]}, "mark": "text", "encoding": {"text": {"value": ""}}},
   {"width": 91, "height": 80, "data": {"name": "dTW"}, "title": {"text": "Tonic cells", "anchor": "middle", "offset": 5.5, "fontSize": 9, "font": "Liberation Sans Narrow, Liberation Sans", "fontWeight": "bold", "baseline": "alphabetic", "frame": "group"},
    "encoding": {"x": {"field": "x", "type": "quantitative", "scale": {"domain": [0, 200], "nice": false}, "axis": {"values": [0, 50, 100, 150, 200], "title": "Current (pA)", "labelFont": "Liberation Sans Narrow, Liberation Sans", "titleFont": "Liberation Sans Narrow, Liberation Sans", "titlePadding": 4, "labelOverlap": false}}},
    "layer": [
     {"mark": {"type": "point", "filled": true, "size": 10, "opacity": 1}, "encoding": {"y": {"field": "y", "type": "quantitative", "scale": {"domain": [0, 25], "nice": false}, "axis": {"values": [0, 5, 10, 15, 20, 25], "labelFont": "Liberation Sans Narrow, Liberation Sans", "titleFontSize": 10, "titlePadding": 2, "labelOverlap": false}, "title": "Number of spikes"}, "color": {"field": "g", "type": "nominal", "scale": {"domain": ["WT Female", "WT Male"], "range": ["#2342d8", "#9a9a9a"]}, "legend": null}, "shape": {"field": "g", "type": "nominal", "scale": {"domain": ["WT Female", "WT Male"], "range": ["circle", "square"]}, "legend": null}}},
     {"mark": {"type": "errorbar", "ticks": true, "size": 4, "thickness": 1}, "encoding": {"y": {"field": "y", "type": "quantitative", "title": "Number of spikes"}, "yError": {"field": "e"}, "color": {"field": "g", "type": "nominal"}}}
    ]},
   {"width": 66, "height": 1, "data": {"values": [{}]}, "mark": "text", "encoding": {"text": {"value": ""}}},
   {"width": 90, "height": 80, "data": {"name": "dBW"}, "title": {"text": "Burst cells", "anchor": "middle", "offset": 5.5, "fontSize": 9, "font": "Liberation Sans Narrow, Liberation Sans", "fontWeight": "bold", "baseline": "alphabetic", "frame": "group"},
    "encoding": {"x": {"field": "x", "type": "quantitative", "scale": {"domain": [0, 200], "nice": false}, "axis": {"values": [0, 50, 100, 150, 200], "title": "Current (pA)", "labelFont": "Liberation Sans Narrow, Liberation Sans", "titleFont": "Liberation Sans Narrow, Liberation Sans", "titlePadding": 4, "labelOverlap": false}}},
    "layer": [
     {"mark": {"type": "point", "filled": true, "size": 10, "opacity": 1}, "encoding": {"y": {"field": "y", "type": "quantitative", "scale": {"domain": [0, 15], "nice": false}, "axis": {"values": [0, 5, 10, 15], "labelFont": "Liberation Sans Narrow, Liberation Sans", "titleFontSize": 10, "titlePadding": 2, "labelOverlap": false}, "title": "Number of spikes"}, "color": {"field": "g", "type": "nominal", "scale": {"domain": ["WT Female", "WT Male"], "range": ["#2342d8", "#9a9a9a"]}, "legend": null}, "shape": {"field": "g", "type": "nominal", "scale": {"domain": ["WT Female", "WT Male"], "range": ["circle", "square"]}, "legend": null}}},
     {"mark": {"type": "errorbar", "ticks": true, "size": 4, "thickness": 1}, "encoding": {"y": {"field": "y", "type": "quantitative", "title": "Number of spikes"}, "yError": {"field": "e"}, "color": {"field": "g", "type": "nominal"}}}
    ]},
   {"width": 82, "height": 1, "data": {"values": [{}]}, "mark": "text", "encoding": {"text": {"value": ""}}},
   {"width": 91, "height": 80, "data": {"name": "dPW"}, "title": {"text": "Phasic cells", "anchor": "middle", "offset": 4.5, "fontSize": 9, "font": "Liberation Sans Narrow, Liberation Sans", "fontWeight": "bold", "baseline": "alphabetic", "frame": "group"},
    "encoding": {"x": {"field": "x", "type": "quantitative", "scale": {"domain": [0, 200], "nice": false}, "axis": {"values": [0, 50, 100, 150, 200], "title": "Current (pA)", "labelFont": "Liberation Sans Narrow, Liberation Sans", "titleFont": "Liberation Sans Narrow, Liberation Sans", "titlePadding": 4, "labelOverlap": false}}},
    "layer": [
     {"mark": {"type": "point", "filled": true, "size": 10, "opacity": 1}, "encoding": {"y": {"field": "y", "type": "quantitative", "scale": {"domain": [0, 4], "nice": false}, "axis": {"values": [0, 1, 2, 3, 4], "labelFont": "Liberation Sans Narrow, Liberation Sans", "titleFontSize": 10, "titlePadding": 2, "labelOverlap": false}, "title": "Number of spikes"}, "color": {"field": "g", "type": "nominal", "scale": {"domain": ["WT Female", "WT Male"], "range": ["#2342d8", "#9a9a9a"]}, "legend": {"title": null, "orient": "none", "legendX": 217, "legendY": 3.5, "labelFont": "Liberation Sans Narrow, Liberation Sans", "labelFontSize": 9, "symbolSize": 14, "rowPadding": 1, "labelOffset": 4}}, "shape": {"field": "g", "type": "nominal", "scale": {"domain": ["WT Female", "WT Male"], "range": ["circle", "square"]}, "legend": {"title": null, "orient": "none", "legendX": 217, "legendY": 3.5, "labelFont": "Liberation Sans Narrow, Liberation Sans", "labelFontSize": 9, "symbolSize": 14, "rowPadding": 1, "labelOffset": 4}}}},
     {"mark": {"type": "errorbar", "ticks": true, "size": 4, "thickness": 1}, "encoding": {"y": {"field": "y", "type": "quantitative", "title": "Number of spikes"}, "yError": {"field": "e"}, "color": {"field": "g", "type": "nominal"}}}
    ]}
  ], "spacing": 0, "bounds": "flush", "resolve": {"scale": {"color": "independent", "shape": "independent", "stroke": "independent"}}},
 {"width": 688, "height": 142, "data": {"values": [{}]}, "mark": "text", "encoding": {"text": {"value": ""}}},
 {"hconcat": [
   {"width": 38, "height": 1, "data": {"values": [{}]}, "mark": "text", "encoding": {"text": {"value": ""}}},
   {"width": 98, "height": 86, "data": {"name": "dTK"}, "title": {"text": "Tonic cells", "anchor": "middle", "offset": 8.5, "fontSize": 9, "font": "Liberation Sans Narrow, Liberation Sans", "fontWeight": "bold", "baseline": "alphabetic", "frame": "group"},
    "encoding": {"x": {"field": "x", "type": "quantitative", "scale": {"domain": [0, 200], "nice": false}, "axis": {"values": [0, 50, 100, 150, 200], "title": "Current (pA)", "labelFont": "Liberation Sans Narrow, Liberation Sans", "titleFont": "Liberation Sans Narrow, Liberation Sans", "titlePadding": 4, "labelOverlap": false}}},
    "layer": [
     {"mark": {"type": "point", "filled": true, "size": 12, "opacity": 1}, "encoding": {"y": {"field": "y", "type": "quantitative", "scale": {"domain": [0, 25], "nice": false}, "axis": {"values": [0, 5, 10, 15, 20, 25], "labelFont": "Liberation Sans Narrow, Liberation Sans", "titleFontSize": 10, "titlePadding": 2, "labelOverlap": false}, "title": "Number of spikes"}, "color": {"field": "g", "type": "nominal", "scale": {"domain": ["KO Female", "KO Male"], "range": ["#111111", "#b04aa6"]}, "legend": null}, "shape": {"field": "g", "type": "nominal", "scale": {"domain": ["KO Female", "KO Male"], "range": ["triangle-up", "triangle-down"]}, "legend": null}}},
     {"mark": {"type": "errorbar", "ticks": true, "size": 4, "thickness": 1}, "encoding": {"y": {"field": "y", "type": "quantitative", "title": "Number of spikes"}, "yError": {"field": "e"}, "color": {"field": "g", "type": "nominal"}}}
    ]},
   {"width": 59, "height": 1, "data": {"values": [{}]}, "mark": "text", "encoding": {"text": {"value": ""}}},
   {"width": 96, "height": 86, "data": {"name": "dBK"}, "title": {"text": "Burst cells", "anchor": "middle", "offset": 8.5, "fontSize": 9, "font": "Liberation Sans Narrow, Liberation Sans", "fontWeight": "bold", "baseline": "alphabetic", "frame": "group"},
    "encoding": {"x": {"field": "x", "type": "quantitative", "scale": {"domain": [0, 200], "nice": false}, "axis": {"values": [0, 50, 100, 150, 200], "title": "Current (pA)", "labelFont": "Liberation Sans Narrow, Liberation Sans", "titleFont": "Liberation Sans Narrow, Liberation Sans", "titlePadding": 4, "labelOverlap": false}}},
    "layer": [
     {"mark": {"type": "point", "filled": true, "size": 12, "opacity": 1}, "encoding": {"y": {"field": "y", "type": "quantitative", "scale": {"domain": [0, 15], "nice": false}, "axis": {"values": [0, 5, 10, 15], "labelFont": "Liberation Sans Narrow, Liberation Sans", "titleFontSize": 10, "titlePadding": 2, "labelOverlap": false}, "title": "Number of spikes"}, "color": {"field": "g", "type": "nominal", "scale": {"domain": ["KO Female", "KO Male"], "range": ["#111111", "#b04aa6"]}, "legend": null}, "shape": {"field": "g", "type": "nominal", "scale": {"domain": ["KO Female", "KO Male"], "range": ["triangle-up", "triangle-down"]}, "legend": null}}},
     {"mark": {"type": "errorbar", "ticks": true, "size": 4, "thickness": 1}, "encoding": {"y": {"field": "y", "type": "quantitative", "title": "Number of spikes"}, "yError": {"field": "e"}, "color": {"field": "g", "type": "nominal"}}}
    ]},
   {"width": 76, "height": 1, "data": {"values": [{}]}, "mark": "text", "encoding": {"text": {"value": ""}}},
   {"width": 95, "height": 86, "data": {"name": "dPK"}, "title": {"text": "Phasic cells", "anchor": "middle", "offset": 3.5, "fontSize": 9, "font": "Liberation Sans Narrow, Liberation Sans", "fontWeight": "bold", "baseline": "alphabetic", "frame": "group"},
    "encoding": {"x": {"field": "x", "type": "quantitative", "scale": {"domain": [0, 200], "nice": false}, "axis": {"values": [0, 50, 100, 150, 200], "title": "Current (pA)", "labelFont": "Liberation Sans Narrow, Liberation Sans", "titleFont": "Liberation Sans Narrow, Liberation Sans", "titlePadding": 4, "labelOverlap": false}}},
    "layer": [
     {"mark": {"type": "point", "filled": true, "size": 12, "opacity": 1}, "encoding": {"y": {"field": "y", "type": "quantitative", "scale": {"domain": [0, 4], "nice": false}, "axis": {"values": [0, 1, 2, 3, 4], "labelFont": "Liberation Sans Narrow, Liberation Sans", "titleFontSize": 10, "titlePadding": 2, "labelOverlap": false}, "title": "Number of spikes"}, "color": {"field": "g", "type": "nominal", "scale": {"domain": ["KO Female", "KO Male"], "range": ["#111111", "#b04aa6"]}, "legend": {"title": null, "orient": "none", "legendX": 217, "legendY": 5.5, "labelFont": "Liberation Sans Narrow, Liberation Sans", "labelFontSize": 9, "symbolSize": 14, "rowPadding": 1, "labelOffset": 4}}, "shape": {"field": "g", "type": "nominal", "scale": {"domain": ["KO Female", "KO Male"], "range": ["triangle-up", "triangle-down"]}, "legend": {"title": null, "orient": "none", "legendX": 217, "legendY": 5.5, "labelFont": "Liberation Sans Narrow, Liberation Sans", "labelFontSize": 9, "symbolSize": 14, "rowPadding": 1, "labelOffset": 4}}}},
     {"mark": {"type": "errorbar", "ticks": true, "size": 4, "thickness": 1}, "encoding": {"y": {"field": "y", "type": "quantitative", "title": "Number of spikes"}, "yError": {"field": "e"}, "color": {"field": "g", "type": "nominal"}}}
    ]}
  ], "spacing": 0, "bounds": "flush", "resolve": {"scale": {"color": "independent", "shape": "independent", "stroke": "independent"}}}
]
}
